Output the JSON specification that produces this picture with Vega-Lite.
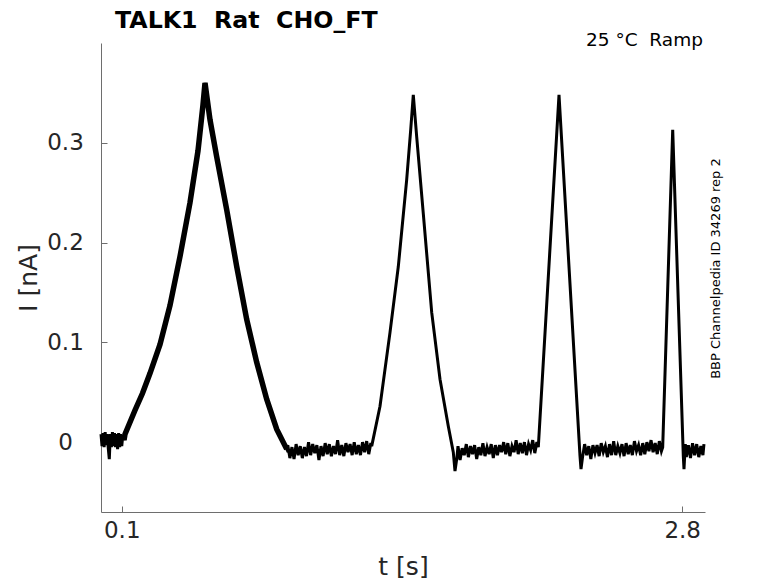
{
  "$schema": "https://vega.github.io/schema/vega-lite/v6.json",
  "autosize": "none",
  "padding": {"left": 101, "top": 43, "right": 73, "bottom": 71},
  "width": 604,
  "height": 469,
  "background": "white",
  "title": {
    "text": "TALK1\u00a0 Rat\u00a0 CHO_FT",
    "anchor": "start",
    "frame": "group",
    "dx": 14,
    "offset": -1,
    "font": "DejaVu Sans",
    "fontSize": 23.7,
    "fontWeight": "bold",
    "color": "black"
  },
  "config": {
    "font": "DejaVu Sans",
    "view": {"stroke": null},
    "axis": {
      "grid": false,
      "domainColor": "#6e6e6e",
      "tickColor": "#6e6e6e",
      "tickSize": -6,
      "labelFont": "DejaVu Sans",
      "labelFontSize": 23,
      "labelColor": "#262626",
      "titleFont": "DejaVu Sans",
      "titleFontSize": 25,
      "titleFontWeight": "normal",
      "titleColor": "#262626"
    }
  },
  "datasets": {
    "trace": [
      {"t": 0.000, "I": 0.008}, {"t": 0.005, "I": -0.004}, {"t": 0.010, "I": 0.009}, {"t": 0.015, "I": -0.005},
      {"t": 0.020, "I": 0.010}, {"t": 0.025, "I": -0.003}, {"t": 0.030, "I": 0.008}, {"t": 0.035, "I": -0.006},
      {"t": 0.040, "I": -0.017}, {"t": 0.045, "I": 0.008}, {"t": 0.050, "I": -0.005}, {"t": 0.055, "I": 0.010},
      {"t": 0.060, "I": -0.004}, {"t": 0.065, "I": 0.009}, {"t": 0.070, "I": -0.005}, {"t": 0.075, "I": 0.008},
      {"t": 0.080, "I": -0.007}, {"t": 0.085, "I": 0.009}, {"t": 0.090, "I": -0.005}, {"t": 0.095, "I": 0.008},
      {"t": 0.100, "I": -0.004}, {"t": 0.105, "I": 0.007}, {"t": 0.111, "I": 0.002},
      {"t": 0.1156, "I": 0.008}, {"t": 0.1638, "I": 0.032}, {"t": 0.2000, "I": 0.049}, {"t": 0.2361, "I": 0.069},
      {"t": 0.2843, "I": 0.098}, {"t": 0.3324, "I": 0.137}, {"t": 0.3806, "I": 0.186}, {"t": 0.4288, "I": 0.240},
      {"t": 0.4673, "I": 0.292}, {"t": 0.4914, "I": 0.338}, {"t": 0.5011, "I": 0.360}, {"t": 0.5252, "I": 0.323},
      {"t": 0.5574, "I": 0.286}, {"t": 0.6056, "I": 0.233}, {"t": 0.6538, "I": 0.176}, {"t": 0.7020, "I": 0.123},
      {"t": 0.7501, "I": 0.080}, {"t": 0.7983, "I": 0.043}, {"t": 0.8465, "I": 0.013}, {"t": 0.8947, "I": -0.007},
      {"t": 0.90, "I": -0.003}, {"t": 0.91, "I": -0.016}, {"t": 0.92, "I": -0.005}, {"t": 0.93, "I": -0.017},
      {"t": 0.94, "I": -0.002}, {"t": 0.95, "I": -0.013}, {"t": 0.96, "I": -0.004}, {"t": 0.97, "I": -0.016},
      {"t": 0.98, "I": -0.005}, {"t": 0.99, "I": -0.014}, {"t": 1.00, "I": 0.000}, {"t": 1.01, "I": -0.013},
      {"t": 1.02, "I": -0.002}, {"t": 1.03, "I": -0.011}, {"t": 1.04, "I": -0.003}, {"t": 1.05, "I": -0.018},
      {"t": 1.06, "I": -0.004}, {"t": 1.07, "I": -0.014}, {"t": 1.08, "I": -0.001}, {"t": 1.09, "I": -0.012},
      {"t": 1.10, "I": -0.002}, {"t": 1.11, "I": -0.014}, {"t": 1.12, "I": -0.004}, {"t": 1.13, "I": -0.012},
      {"t": 1.14, "I": 0.002}, {"t": 1.15, "I": -0.013}, {"t": 1.16, "I": -0.003}, {"t": 1.17, "I": -0.014},
      {"t": 1.18, "I": -0.001}, {"t": 1.19, "I": -0.010}, {"t": 1.20, "I": -0.002}, {"t": 1.21, "I": -0.013},
      {"t": 1.22, "I": 0.000}, {"t": 1.23, "I": -0.012}, {"t": 1.24, "I": -0.003}, {"t": 1.25, "I": -0.013},
      {"t": 1.26, "I": 0.000}, {"t": 1.27, "I": -0.010}, {"t": 1.28, "I": 0.001}, {"t": 1.29, "I": -0.012},
      {"t": 1.30, "I": -0.001},
      {"t": 1.3042, "I": -0.004}, {"t": 1.3442, "I": 0.036}, {"t": 1.3924, "I": 0.110}, {"t": 1.4324, "I": 0.176},
      {"t": 1.4728, "I": 0.263}, {"t": 1.4921, "I": 0.313}, {"t": 1.5046, "I": 0.348}, {"t": 1.521, "I": 0.306},
      {"t": 1.5528, "I": 0.229}, {"t": 1.5933, "I": 0.130}, {"t": 1.6333, "I": 0.063}, {"t": 1.6733, "I": 0.016},
      {"t": 1.6973, "I": -0.010}, {"t": 1.7055, "I": -0.029},
      {"t": 1.715, "I": -0.015}, {"t": 1.72, "I": -0.004}, {"t": 1.73, "I": -0.018}, {"t": 1.74, "I": -0.006},
      {"t": 1.75, "I": -0.013}, {"t": 1.76, "I": -0.002}, {"t": 1.77, "I": -0.015}, {"t": 1.78, "I": -0.004},
      {"t": 1.79, "I": -0.012}, {"t": 1.80, "I": -0.003}, {"t": 1.81, "I": -0.017}, {"t": 1.82, "I": -0.005},
      {"t": 1.83, "I": -0.013}, {"t": 1.84, "I": -0.001}, {"t": 1.85, "I": -0.014}, {"t": 1.86, "I": -0.005},
      {"t": 1.87, "I": -0.012}, {"t": 1.88, "I": -0.002}, {"t": 1.89, "I": -0.016}, {"t": 1.90, "I": -0.003},
      {"t": 1.91, "I": -0.013}, {"t": 1.92, "I": -0.003}, {"t": 1.93, "I": -0.010}, {"t": 1.94, "I": 0.000},
      {"t": 1.95, "I": -0.012}, {"t": 1.96, "I": -0.001}, {"t": 1.97, "I": -0.014}, {"t": 1.98, "I": -0.004},
      {"t": 1.99, "I": -0.010}, {"t": 2.00, "I": 0.002}, {"t": 2.01, "I": -0.012}, {"t": 2.02, "I": -0.001},
      {"t": 2.03, "I": -0.011}, {"t": 2.04, "I": 0.000}, {"t": 2.05, "I": -0.013}, {"t": 2.06, "I": -0.002},
      {"t": 2.07, "I": -0.008}, {"t": 2.08, "I": 0.002}, {"t": 2.09, "I": -0.011}, {"t": 2.10, "I": 0.000},
      {"t": 2.1069, "I": -0.005}, {"t": 2.2066, "I": 0.348}, {"t": 2.3078, "I": -0.014}, {"t": 2.3126, "I": -0.027},
      {"t": 2.32, "I": -0.015}, {"t": 2.33, "I": -0.002}, {"t": 2.34, "I": -0.013}, {"t": 2.35, "I": -0.004},
      {"t": 2.36, "I": -0.017}, {"t": 2.37, "I": -0.003}, {"t": 2.38, "I": -0.011}, {"t": 2.39, "I": -0.003},
      {"t": 2.40, "I": -0.014}, {"t": 2.41, "I": -0.001}, {"t": 2.42, "I": -0.010}, {"t": 2.43, "I": -0.004},
      {"t": 2.44, "I": -0.015}, {"t": 2.45, "I": -0.002}, {"t": 2.46, "I": -0.013}, {"t": 2.47, "I": 0.001},
      {"t": 2.48, "I": -0.013}, {"t": 2.49, "I": -0.004}, {"t": 2.50, "I": -0.011}, {"t": 2.51, "I": -0.002},
      {"t": 2.52, "I": -0.014}, {"t": 2.53, "I": -0.001}, {"t": 2.54, "I": -0.012}, {"t": 2.55, "I": -0.003},
      {"t": 2.56, "I": -0.013}, {"t": 2.57, "I": 0.001}, {"t": 2.58, "I": -0.009}, {"t": 2.59, "I": -0.003},
      {"t": 2.60, "I": -0.013}, {"t": 2.61, "I": -0.001}, {"t": 2.62, "I": -0.012}, {"t": 2.63, "I": 0.000},
      {"t": 2.64, "I": -0.009}, {"t": 2.65, "I": 0.002}, {"t": 2.66, "I": -0.010}, {"t": 2.67, "I": -0.001},
      {"t": 2.68, "I": -0.012}, {"t": 2.69, "I": 0.001}, {"t": 2.70, "I": -0.009},
      {"t": 2.7062, "I": -0.005}, {"t": 2.7544, "I": 0.313}, {"t": 2.8055, "I": -0.014}, {"t": 2.8088, "I": -0.027},
      {"t": 2.815, "I": -0.002}, {"t": 2.82, "I": -0.015}, {"t": 2.83, "I": -0.003}, {"t": 2.84, "I": -0.016},
      {"t": 2.85, "I": -0.001}, {"t": 2.86, "I": -0.013}, {"t": 2.87, "I": -0.002}, {"t": 2.88, "I": -0.015},
      {"t": 2.89, "I": -0.004}, {"t": 2.90, "I": -0.013}, {"t": 2.905, "I": -0.002}
    ],
    "notes": [
      {"label": "25 °C\u00a0 Ramp"}
    ],
    "source": [
      {"label": "BBP Channelpedia ID 34269 rep 2"}
    ]
  },
  "layer": [
    {
      "data": {"name": "trace"},
      "mark": {"type": "line", "color": "black", "strokeWidth": 3, "interpolate": "linear"},
      "encoding": {
        "x": {
          "field": "t",
          "type": "quantitative",
          "scale": {"domain": [0, 2.91], "nice": false, "zero": false},
          "axis": {"title": "t [s]", "values": [0.1, 2.8], "format": ".1f", "labelPadding": 13, "titlePadding": 12}
        },
        "y": {
          "field": "I",
          "type": "quantitative",
          "scale": {"domain": [-0.07, 0.4], "nice": false, "zero": false},
          "axis": {"title": "I [nA]", "values": [0, 0.1, 0.2, 0.3], "format": ".1~f", "labelAlign": "center", "labelPadding": 42, "titlePadding": 5}
        },
        "order": {"field": "t", "type": "quantitative"}
      }
    },
    {
      "data": {"name": "trace"},
      "transform": [{"filter": "datum.t > 0.105 && datum.t < 0.9"}],
      "mark": {"type": "line", "color": "black", "strokeWidth": 5.5},
      "encoding": {
        "x": {"field": "t", "type": "quantitative"},
        "y": {"field": "I", "type": "quantitative"},
        "order": {"field": "t", "type": "quantitative"}
      }
    },
    {
      "data": {"name": "notes"},
      "mark": {"type": "text", "align": "right", "baseline": "alphabetic", "fontSize": 18.5, "color": "black"},
      "encoding": {
        "x": {"datum": 2.9, "type": "quantitative"},
        "y": {"datum": 0.3965, "type": "quantitative"},
        "text": {"field": "label", "type": "nominal"}
      }
    },
    {
      "data": {"name": "source"},
      "mark": {"type": "text", "align": "center", "baseline": "middle", "angle": 270, "fontSize": 13, "color": "black"},
      "encoding": {
        "x": {"datum": 2.963, "type": "quantitative"},
        "y": {"datum": 0.174, "type": "quantitative"},
        "text": {"field": "label", "type": "nominal"}
      }
    }
  ]
}
